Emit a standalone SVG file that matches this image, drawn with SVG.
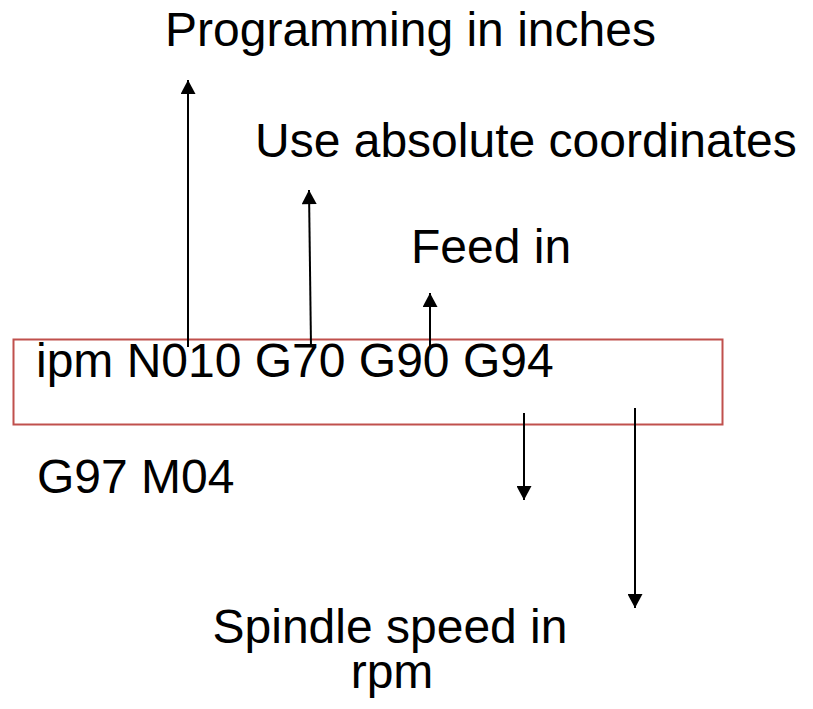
<svg xmlns="http://www.w3.org/2000/svg" width="813" height="709" viewBox="0 0 813 709">
<style>
text{font-family:"Liberation Sans",Arial,sans-serif;font-size:48px;fill:#000}
.conn line{stroke:#000;stroke-width:2}
</style>
<defs>
<marker id="ah" markerWidth="16" markerHeight="15" refX="15" refY="8" orient="auto" markerUnits="userSpaceOnUse" viewBox="0 0 15 16">
<path d="M0,0 L15,8 L0,16 Z" fill="#000"/>
</marker>
</defs>
<rect width="813" height="709" fill="#fff"/>
<g id="code-box">
<rect x="13.5" y="339.5" width="709" height="85" fill="none" stroke="#C0504D" stroke-width="2"/>
<text x="36" y="377">ipm N010 G70 G90 G94</text>
</g>
<g id="code-line2"><text x="37" y="493">G97 M04</text></g>
<g id="label-inches"><text x="165" y="46">Programming in inches</text></g>
<g id="label-absolute"><text x="255" y="157">Use absolute coordinates</text></g>
<g id="label-feed"><text x="411" y="263">Feed in</text></g>
<g id="label-spindle">
<text x="390" y="643" text-anchor="middle">Spindle speed in</text>
<text x="392" y="688" text-anchor="middle">rpm</text>
</g>
<g class="conn" id="connectors">
<line x1="188" y1="347" x2="188" y2="80" marker-end="url(#ah)"/>
<line x1="311" y1="347" x2="309" y2="190" marker-end="url(#ah)"/>
<line x1="430" y1="350" x2="430" y2="293" marker-end="url(#ah)"/>
<line x1="524" y1="413" x2="524" y2="500" marker-end="url(#ah)"/>
<line x1="635" y1="408" x2="635" y2="608" marker-end="url(#ah)"/>
</g>
</svg>
